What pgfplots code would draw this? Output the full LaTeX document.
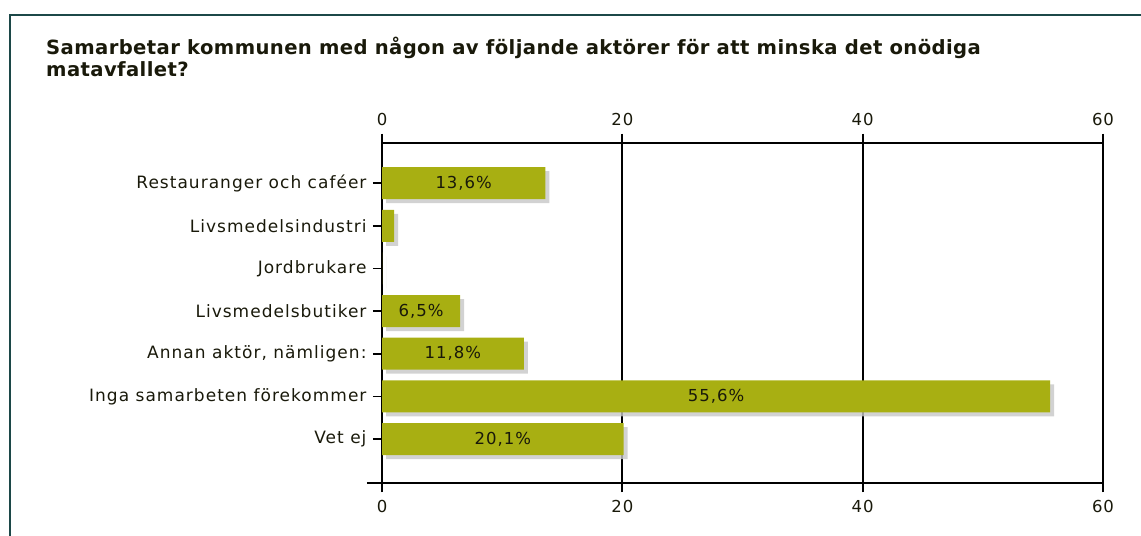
\documentclass[border=0pt]{standalone}
\usepackage{fontspec}
\setmainfont{DejaVu Sans}
\newfontfamily\labfont[LetterSpace=6]{DejaVu Sans}
\newfontfamily\titfont[LetterSpace=2]{DejaVu Sans}
\usepackage{pgfplots}
\usepackage{pgfplotstable}
\pgfplotsset{compat=1.18}
\usetikzlibrary{shadows}
\definecolor{barc}{RGB}{168,175,18}
\definecolor{framec}{RGB}{28,72,72}
\definecolor{txtc}{RGB}{25,25,10}

\pgfplotstableread{
y x label
0 13.6 {13,6\%}
1 1.0 {}
2 0 {}
3 6.5 {6,5\%}
4 11.8 {11,8\%}
5 55.6 {55,6\%}
6 20.1 {20,1\%}
}\datatable

\pgfplotsset{
  base/.style={
    at={(382bp,53bp)}, anchor=south west,
    width=721bp, height=340bp, scale only axis,
    xmin=0, xmax=60, ymin=-0.94, ymax=7.03, y dir=reverse,
    xtick={0,20,40,60},
    axis line style={black, line width=1.7bp},
    tick style={black, line width=1.7bp},
    major tick length=9bp,
    tick align=outside,
    xtick pos=both,
    ticklabel style={font=\labfont\fontsize{16.5bp}{18bp}\selectfont, text=txtc},
    /pgf/number format/assume math mode=true,
  }
}

\begin{document}
\begin{tikzpicture}
\useasboundingbox (0,0) rectangle (1141bp,536bp);
\draw[framec, line width=2.6bp] (10bp,0) -- (10bp,521bp) -- (1141bp,521bp);
\node[anchor=north west, align=left, inner sep=0pt, font=\titfont\bfseries\fontsize{19.6bp}{22bp}\selectfont, text=txtc] at (46bp,499bp)
  {Samarbetar kommunen med någon av följande aktörer för att minska det onödiga\\matavfallet?};

\begin{axis}[base,
  xbar, bar width=32bp,
  xmajorgrids, grid style={black, line width=1.7bp},
  ytick={0,1,2,3,4,5,6},
  yticklabels={Restauranger och caféer, Livsmedelsindustri, Jordbrukare, Livsmedelsbutiker, {Annan aktör, nämligen:}, Inga samarbeten förekommer, Vet ej},
  ytick pos=left,
  extra y ticks={7.03}, extra y tick labels={},
  extra y tick style={major tick length=15bp},
  yticklabel style={xshift=-3bp, font=\labfont\fontsize{17bp}{18bp}\selectfont},
  xticklabel style={yshift=-5bp},
  visualization depends on={\thisrow{x} \as \rawx},
  nodes near coords,
  point meta=explicit symbolic,
  every node near coord/.append style={anchor=center, shift={(axis direction cs:-\rawx/2,0)}, font=\labfont\fontsize{16.5bp}{18bp}\selectfont, text=txtc},
]
\addplot[fill=barc, draw=none, drop shadow={shadow xshift=4bp, shadow yshift=-4bp, fill=black!22, opacity=0.8}]
  table[x=x, y=y, meta=label] {\datatable};
\end{axis}

\begin{axis}[base,
  xticklabel pos=upper,
  xticklabel style={yshift=5bp},
  ytick=\empty,
  axis line style={draw=none},
]
\end{axis}
\end{tikzpicture}
\end{document}
